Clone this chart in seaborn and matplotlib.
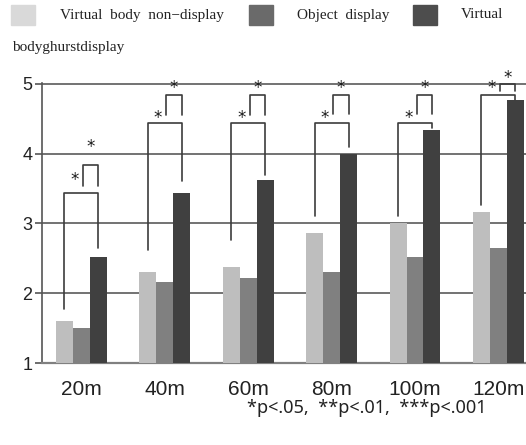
import pandas as pd
import matplotlib
matplotlib.use("Agg")
import matplotlib.pyplot as plt
from matplotlib.patches import Rectangle
import seaborn as sns

# values
distances = ["20m", "40m", "60m", "80m", "100m", "120m"]
conditions = ["Virtual body non\u2212display", "Object display", "Virtual bodyghurstdisplay"]
non_display = [1.60, 2.30, 2.38, 2.87, 3.00, 3.17]
object_display = [1.50, 2.17, 2.22, 2.31, 2.52, 2.65]
ghost_display = [2.52, 3.43, 3.62, 3.99, 4.34, 4.77]

# significance brackets (light-vs-dark and mid-vs-dark), heights per group
big_top = [3.43, 4.44, 4.44, 4.44, 4.44, 4.83]
big_left_end = [1.77, 2.62, 2.76, 3.11, 3.11, 3.26]
big_right_end = [2.65, 3.60, 3.69, 4.09, 4.37, 4.77]
small_top = [3.84, 4.83, 4.83, 4.83, 4.83, 4.99]
small_end = [3.53, 4.55, 4.55, 4.56, 4.56, 4.89]
big_star = [3.62, 4.51, 4.51, 4.51, 4.51, 4.93]
small_star = [4.09, 4.93, 4.93, 4.93, 4.93, 5.08]

df = pd.DataFrame({
    "distance": distances * 3,
    "condition": [conditions[0]] * 6 + [conditions[1]] * 6 + [conditions[2]] * 6,
    "score": non_display + object_display + ghost_display,
})

bar_colors = ["#bebebe", "#808080", "#404040"]
legend_colors = ["#d9d9d9", "#6a6a6a", "#4d4d4d"]
group_width = 0.61
w = group_width / 3

sns.set_style("white")
fig = plt.figure(figsize=(5.26, 4.45), dpi=100)
ax = fig.add_axes([0.0798, 0.1835, 0.9202, 0.6295])

sns.barplot(data=df, x="distance", y="score", hue="condition", palette=bar_colors,
            width=group_width, legend=False, ax=ax, zorder=3, edgecolor="none", errorbar=None)

ax.set_ylim(1, 5.005)
ax.set_xlim(-0.47, 5.33)
ax.set_yticks([1, 2, 3, 4, 5])
ax.yaxis.grid(True, color="#5a5a5a", linewidth=1.2, zorder=0)
ax.set_axisbelow(True)
ax.set_xlabel("")
ax.set_ylabel("")
for s in ["top", "right"]:
    ax.spines[s].set_visible(False)
ax.spines["left"].set_color("#555555")
ax.spines["left"].set_linewidth(1.2)
ax.spines["bottom"].set_color("#808080")
ax.spines["bottom"].set_linewidth(1.6)
ax.tick_params(axis="y", length=5, width=1.2, color="#555555", pad=2,
               labelsize=13, labelcolor="#222222", left=True)
ax.tick_params(axis="x", length=0, pad=12, labelsize=15, labelcolor="#222222")
for lab in ax.get_xticklabels() + ax.get_yticklabels():
    lab.set_family("Liberation Sans")

# brackets and stars
lc = "#3c3c3c"
for i in range(len(distances)):
    xl, xm, xr = i - w, i, i + w
    ax.plot([xl, xl, xr, xr], [big_left_end[i], big_top[i], big_top[i], big_right_end[i]],
            color=lc, lw=1.2, zorder=4, clip_on=False)
    ax.plot([xm + 0.02, xm + 0.02, xr, xr], [small_end[i], small_top[i], small_top[i], small_end[i]],
            color=lc, lw=1.2, zorder=4, clip_on=False)
    ax.text(i - 0.08, big_star[i], "*", ha="center", va="center", fontsize=12,
            color="#1a1a1a", zorder=5, clip_on=False)
    ax.text(i + w / 2 + 0.01, small_star[i], "*", ha="center", va="center", fontsize=12,
            color="#1a1a1a", zorder=5, clip_on=False)

# legend drawn across the top, wrapping like the original
W, H = 526, 445
sq = [(11, 5), (249, 5), (413, 5)]
for (px, py), c in zip(sq, legend_colors):
    fig.patches.append(Rectangle((px / W, 1 - (py + 20) / H), 24 / W, 20 / H,
                                 transform=fig.transFigure, color=c))
serif = dict(family="Liberation Serif", fontsize=11, color="#222222", va="center")
fig.text(60 / W, 1 - 15 / H, "Virtual  body  non\u2212display", **serif)
fig.text(297 / W, 1 - 15 / H, "Object  display", **serif)
fig.text(461 / W, 1 - 15 / H, "Virtual", **serif)
fig.text(12 / W, 1 - 48 / H, "bodyghurstdisplay", **serif)

fig.text(367 / W, 1 - 408 / H, "*p<.05,  **p<.01,  ***p<.001", ha="center", va="center",
         family="Noto Sans", fontsize=13, color="#222222")

fig.savefig("out.png", dpi=100)
